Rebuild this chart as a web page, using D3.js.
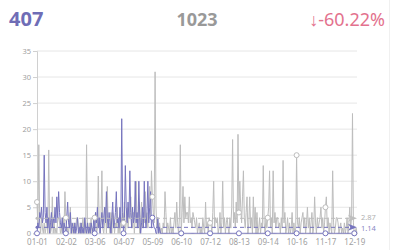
<!DOCTYPE html>
<html><head><meta charset="utf-8">
<script src="https://cdn.jsdelivr.net/npm/d3@7"></script>
<style>html,body{margin:0;padding:0;background:#fff;}svg{display:block;}</style>
</head><body>
<svg id="c" width="400" height="250"></svg>
<script>
// ---- data ----
const tickLabels = ["01-01","02-02","03-06","04-07","05-09","06-10","07-12","08-13","09-14","10-16","11-17","12-19"];
const yTicks = [0,5,10,15,20,25,30,35];
const categories = d3.utcDays(new Date(Date.UTC(2023,0,1)), new Date(Date.UTC(2023,11,23))).map(d3.utcFormat("%m-%d"));
const previousValues = [
6,1,17,2,0,3,1,0,2,0, 1,3,0,16,2,0,1,7,0,2, 0,1,0,3,3,2,0,1,0,3, 1,8,3,0,1,0,2,5,0,1,
0,2,0,1,3,3,1,0,2,0, 1,3,0,2,0,17,1,0,2,0, 3,0,1,0,3,4,0,1,11,2, 0,3,12,1,0,2,5,0,9,1,
2,0,4,0,4,3,0,2,1,5, 0,2,0,3,1,4,2,6,0,2, 5,1,3,3,7,2,1,4,0,3, 10,1,2,6,0,3,6,1,4,2,
8,2,4,1,5,9,3,12,7,4, 2,31,5,1,3,0,2,0,1,0, 2,1,8,4,0,2,1,0,3,0, 1,0,2,4,1,6,2,0,3,17,
0,4,9,2,7,3,4,4,2,7, 2,3,1,4,3,2,1,3,0,1, 2,0,1,0,3,1,0,6,1,2, 0,3,2,2,0,4,10,1,3,2,
3,0,1,4,0,2,10,1,3,0, 2,3,1,0,3,1,5,18,2,4, 1,6,2,19,4,10,5,2,7,12, 3,1,4,7,0,2,7,1,3,0,
7,1,5,0,4,0,1,3,0,2, 1,13,2,0,3,1,3,5,12,1, 3,0,12,2,4,1,3,3,1,2, 0,3,1,14,2,4,0,1,3,0,
2,0,1,4,0,2,0,1,15,2, 1,3,0,2,3,4,1,3,0,2, 5,1,3,0,2,4,0,1,7,2, 0,3,1,2,3,5,1,3,0,2,
5,7,1,3,0,2,1,0,12,2, 0,1,3,3,2,0,1,2,0,1, 0,2,0,1,3,0,2,5,1,3, 23,2,0,0,1,0];
const currentActive = [
0,2,1,4,3,5,2,3,15,4, 2,5,1,3,0,2,4,1,3,2, 5,2,7,3,8,4,2,1,3,0, 2,1,0,3,6,2,1,4,0,2,
1,0,2,0,1,3,0,1,0,2, 0,1,0,3,1,0,2,0,1,0, 2,1,0,3,0,4,2,5,1,3, 0,2,4,1,3,5,2,8,3,1,
4,2,0,3,6,1,2,4,8,2, 3,1,5,2,22,4,0,3,13,5, 2,6,3,12,4,1,5,2,3,10, 2,4,1,10,3,0,2,5,1,10,
3,1,4,10,2,5,8,1,3,2, 1,1,0,0,3,0,1,0,0,0];
const currentValues = categories.map((c,i) => i < currentActive.length ? currentActive[i] : 0);

// ---- layout ----
const svg = d3.select("#c");
const L = 37, R = 357, T = 51, B = 233.3;
const purple = "#7674be", grey = "#bdbdbd";
const x = d3.scalePoint().domain(categories).range([L, R]);
const y = d3.scaleLinear().domain([0, 35]).range([B, T]);

svg.append("line").attr("x1",389.5).attr("x2",389.5).attr("y1",0).attr("y2",250).attr("stroke","#f0f0f0");

// grid
svg.append("g").selectAll("line").data(yTicks.filter(d=>d>0)).join("line")
  .attr("x1", L).attr("x2", R).attr("y1", d=>y(d)).attr("y2", d=>y(d))
  .attr("stroke", "#e6e6e6").attr("stroke-width", 1);

// y axis
const ya = svg.append("g").attr("transform", `translate(${L},0)`)
  .call(d3.axisLeft(y).tickValues(yTicks).tickSize(4).tickPadding(2));
ya.select(".domain").attr("stroke", "#d0d0d0");
ya.selectAll(".tick line").attr("stroke", "#d0d0d0");
ya.selectAll("text").attr("fill", "#a0a0a0").attr("font-size", 7.5).attr("font-family", "Noto Sans, sans-serif");

// x axis
const xa = svg.append("g").attr("transform", `translate(0,${B})`)
  .call(d3.axisBottom(x).tickValues(tickLabels).tickSize(0).tickPadding(6));
xa.select(".domain").attr("stroke", "#d0d0d0");
xa.selectAll("text").attr("fill", "#a0a0a0").attr("font-size", 8).attr("font-family", "Noto Sans, sans-serif");

const line = d3.line().x((d,i)=>x(categories[i])).y(d=>y(d));

svg.append("path").datum(previousValues).attr("d", line)
  .attr("fill","none").attr("stroke", grey).attr("stroke-width", 1);
svg.append("path").datum(currentValues).attr("d", line)
  .attr("fill","none").attr("stroke", purple).attr("stroke-width", 1);

// mean mark lines
function markLine(values, color, labelColor, nudge) {
  const m = d3.mean(values);
  const yy = y(m);
  const g = svg.append("g");
  g.append("line").attr("x1", L).attr("x2", R-4).attr("y1", yy).attr("y2", yy)
    .attr("stroke", color).attr("stroke-dasharray", "4,3").attr("stroke-width", 1);
  g.append("circle").attr("cx", L).attr("cy", yy).attr("r", 1.5).attr("fill", color);
  g.append("path").attr("d", `M${R},${yy} L${R-9},${yy-3.5} L${R-6.5},${yy} L${R-9},${yy+3.5} Z`).attr("fill", color);
  g.append("text").attr("x", R+4).attr("y", yy + nudge).attr("dy","0.35em")
    .attr("fill", labelColor).attr("font-size", 7.5).attr("font-family","Noto Sans, sans-serif")
    .text(m.toFixed(2));
}
markLine(previousValues, grey, "#b0b0b0", -1);
markLine(currentValues, purple, "#8a88c4", 1);

// symbols at label intervals
const symIdx = categories.map((c,i)=>i).filter(i => tickLabels.includes(categories[i]));
svg.append("g").selectAll("circle").data(symIdx).join("circle")
  .attr("cx", i=>x(categories[i])).attr("cy", i=>y(previousValues[i])).attr("r", 2.5)
  .attr("fill","#fff").attr("stroke", grey).attr("stroke-width", 1);
svg.append("g").selectAll("circle").data(symIdx).join("circle")
  .attr("cx", i=>x(categories[i])).attr("cy", i=>y(currentValues[i])).attr("r", 2.5)
  .attr("fill","#fff").attr("stroke", purple).attr("stroke-width", 1);

// header
const curSum = d3.sum(currentValues), prevSum = d3.sum(previousValues);
const pct = (curSum - prevSum) / prevSum * 100;
svg.append("text").attr("x", 9).attr("y", 26).attr("fill", "#6f6db6")
  .attr("font-size", 20).attr("font-weight", "bold").attr("font-family","Noto Sans, sans-serif").text(curSum);
svg.append("text").attr("x", 197).attr("y", 26).attr("text-anchor","middle").attr("fill", "#999999")
  .attr("font-size", 18).attr("font-weight", "bold").attr("font-family","Noto Sans, sans-serif").text(prevSum);
svg.append("text").attr("x", 385).attr("y", 26).attr("text-anchor","end").attr("fill", "#e3728e")
  .attr("font-size", 18).attr("font-family","Noto Sans, sans-serif")
  .text((pct < 0 ? "↓" : "↑") + pct.toFixed(2) + "%");
</script>
</body></html>
